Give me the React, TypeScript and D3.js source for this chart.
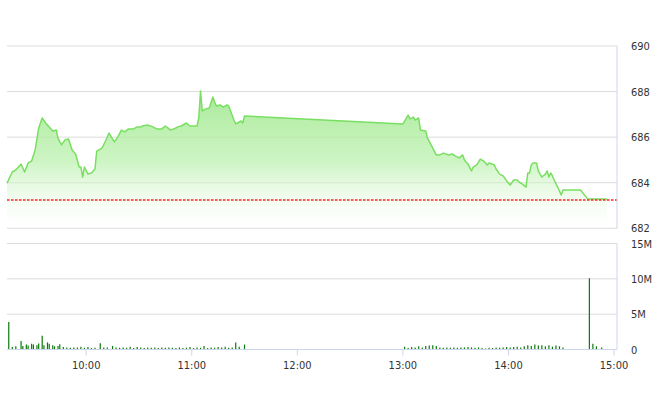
import * as d3 from 'd3'
import React, { useEffect, useRef } from 'react'

// intraday index, reference price and matched volume (millions)
const refPrice = 683.24
const priceTicks = [682, 684, 686, 688, 690]
const volTicks = [0, 5, 10, 15]
const timeTicks = ['10:00', '11:00', '12:00', '13:00', '14:00', '15:00']

const prices: [string, number][] = [
    ['9:15', 683.98], ['9:18', 684.47], ['9:20', 684.56], ['9:21', 684.65], ['9:23', 684.82],
    ['9:25', 684.47], ['9:27', 684.87], ['9:29', 684.95], ['9:31', 685.44], ['9:33', 686.40],
    ['9:35', 686.84], ['9:37', 686.62], ['9:41', 686.27], ['9:43', 686.31], ['9:44', 685.96],
    ['9:46', 685.66], ['9:48', 685.88], ['9:50', 685.92], ['9:52', 685.44], ['9:54', 685.26],
    ['9:56', 684.69], ['9:57', 684.69], ['9:58', 684.25], ['9:59', 684.69], ['10:01', 684.38],
    ['10:03', 684.43], ['10:05', 684.60], ['10:06', 685.39], ['10:09', 685.52], ['10:11', 685.83],
    ['10:13', 686.18], ['10:14', 686.05], ['10:16', 685.79], ['10:18', 686.01], ['10:20', 686.31],
    ['10:22', 686.23], ['10:24', 686.36], ['10:27', 686.36], ['10:29', 686.45], ['10:31', 686.45],
    ['10:32', 686.49], ['10:35', 686.53], ['10:38', 686.45], ['10:40', 686.36], ['10:43', 686.36],
    ['10:45', 686.49], ['10:48', 686.31], ['10:51', 686.40], ['10:52', 686.45], ['10:54', 686.49],
    ['10:57', 686.62], ['10:59', 686.49], ['11:03', 686.49], ['11:04', 686.84], ['11:05', 688.03],
    ['11:06', 687.15], ['11:08', 687.24], ['11:10', 687.28], ['11:12', 687.76], ['11:13', 687.54],
    ['11:14', 687.37], ['11:16', 687.41], ['11:18', 687.32], ['11:20', 687.41], ['11:21', 687.37],
    ['11:24', 686.75], ['11:25', 686.58], ['11:28', 686.71], ['11:29', 686.62], ['11:30', 686.93],
    ['13:00', 686.58], ['13:02', 686.84], ['13:03', 686.97], ['13:04', 686.80], ['13:06', 686.88],
    ['13:07', 686.75], ['13:09', 686.84], ['13:10', 686.31], ['13:13', 686.27], ['13:14', 685.96],
    ['13:17', 685.52], ['13:19', 685.22], ['13:21', 685.22], ['13:23', 685.30], ['13:26', 685.22],
    ['13:28', 685.26], ['13:30', 685.17], ['13:32', 685.09], ['13:34', 685.22], ['13:35', 685.00],
    ['13:37', 684.82], ['13:39', 684.52], ['13:40', 684.69], ['13:42', 684.78], ['13:44', 685.04],
    ['13:46', 684.95], ['13:48', 684.78], ['13:49', 684.87], ['13:52', 684.78], ['13:53', 684.60],
    ['13:55', 684.38], ['13:57', 684.30], ['13:59', 684.08], ['14:01', 683.90], ['14:03', 684.12],
    ['14:05', 684.12], ['14:06', 684.03], ['14:08', 683.94], ['14:10', 683.81], ['14:11', 684.43],
    ['14:12', 684.43], ['14:13', 684.78], ['14:14', 684.87], ['14:16', 684.87], ['14:17', 684.52],
    ['14:19', 684.25], ['14:21', 684.38], ['14:22', 684.52], ['14:23', 684.25], ['14:24', 684.43],
    ['14:25', 684.30], ['14:26', 684.12], ['14:28', 683.81], ['14:30', 683.46], ['14:31', 683.68],
    ['14:41', 683.68], ['14:45', 683.29], ['14:56', 683.29],
]

const volumes: [string, number][] = [
    ['9:16', 3.9], ['9:18', 0.35], ['9:20', 0.45], ['9:23', 1.2], ['9:24', 0.5], ['9:26', 0.7],
    ['9:27', 0.55], ['9:29', 0.8], ['9:30', 0.7], ['9:32', 0.6], ['9:33', 0.85], ['9:35', 1.95],
    ['9:36', 0.6], ['9:38', 1.0], ['9:39', 0.8], ['9:41', 0.6], ['9:42', 0.45], ['9:44', 0.5],
    ['9:45', 0.75], ['9:47', 0.35], ['9:49', 0.3], ['9:51', 0.25], ['9:53', 0.3], ['9:55', 0.3],
    ['9:57', 0.4], ['9:59', 0.25], ['10:01', 0.35], ['10:03', 0.2], ['10:05', 0.25], ['10:08', 0.9],
    ['10:10', 0.3], ['10:12', 0.3], ['10:15', 0.5], ['10:17', 0.3], ['10:19', 0.25], ['10:21', 0.3],
    ['10:23', 0.25], ['10:25', 0.4], ['10:27', 0.2], ['10:29', 0.35], ['10:31', 0.3], ['10:33', 0.2],
    ['10:35', 0.3], ['10:37', 0.25], ['10:39', 0.3], ['10:41', 0.2], ['10:43', 0.3], ['10:45', 0.25],
    ['10:47', 0.3], ['10:49', 0.25], ['10:51', 0.2], ['10:53', 0.3], ['10:55', 0.2], ['10:57', 0.25],
    ['10:59', 0.35], ['11:01', 0.2], ['11:03', 0.3], ['11:05', 0.25], ['11:07', 0.5], ['11:09', 0.2],
    ['11:11', 0.3], ['11:13', 0.25], ['11:15', 0.35], ['11:17', 0.3], ['11:19', 0.4], ['11:21', 0.25],
    ['11:23', 0.3], ['11:25', 1.0], ['11:27', 0.4], ['11:30', 0.7],
    ['13:01', 0.4], ['13:03', 0.2], ['13:05', 0.35], ['13:07', 0.3], ['13:09', 0.45], ['13:11', 0.3],
    ['13:13', 0.5], ['13:15', 0.55], ['13:17', 0.6], ['13:19', 0.5], ['13:21', 0.3], ['13:23', 0.25],
    ['13:25', 0.3], ['13:27', 0.25], ['13:29', 0.3], ['13:31', 0.25], ['13:33', 0.3], ['13:35', 0.3],
    ['13:37', 0.35], ['13:39', 0.3], ['13:41', 0.25], ['13:43', 0.3], ['13:45', 0.2], ['13:47', 0.15],
    ['13:49', 0.25], ['13:51', 0.2], ['13:53', 0.3], ['13:55', 0.25], ['13:57', 0.3], ['13:59', 0.35],
    ['14:01', 0.3], ['14:03', 0.35], ['14:05', 0.4], ['14:07', 0.3], ['14:09', 0.45], ['14:11', 0.6],
    ['14:13', 0.5], ['14:15', 0.7], ['14:17', 0.55], ['14:19', 0.6], ['14:21', 0.45], ['14:23', 0.6],
    ['14:25', 0.4], ['14:27', 0.55], ['14:29', 0.45], ['14:31', 0.3],
    ['14:46', 10.1], ['14:48', 0.8], ['14:50', 0.45], ['14:53', 0.3],
]

const toDate = (s: string) => {
    const [h, m] = s.split(':').map(Number)
    return new Date(2020, 0, 2, h, m)
}

const W = 660
const H = 412
const left = 7
const right = 617
const priceTop = 46
const priceBottom = 228.3
const volTop = 243.5
const volBottom = 349.5
const font = '"Liberation Sans Narrow", "DejaVu Sans Condensed", Roboto, sans-serif'
const gridColor = '#dcdcdc'
const axisColor = '#ccd6eb'
const textColor = '#333333'

export default function App() {
    const ref = useRef<SVGSVGElement>(null)

    useEffect(() => {
        const svg = d3.select(ref.current)
        svg.selectAll('*').remove()

        const x = d3.scaleTime().domain([toDate('9:15'), toDate('15:00')]).range([left, 614])
        const y = d3.scaleLinear().domain([682, 690]).range([priceBottom, priceTop])
        const yv = d3.scaleLinear().domain([0, 15]).range([volBottom, volTop])

        const defs = svg.append('defs')
        const grad = defs.append('linearGradient')
            .attr('id', 'pfill')
            .attr('gradientUnits', 'userSpaceOnUse')
            .attr('x1', 0).attr('x2', 0)
            .attr('y1', 80).attr('y2', priceBottom)
        grad.append('stop').attr('offset', 0).attr('stop-color', '#92e47f').attr('stop-opacity', 0.85)
        grad.append('stop').attr('offset', 0.55).attr('stop-color', '#b8f0aa').attr('stop-opacity', 0.7)
        grad.append('stop').attr('offset', 1).attr('stop-color', '#ffffff').attr('stop-opacity', 0.2)

        // price grid
        svg.append('g')
            .selectAll('line')
            .data(priceTicks)
            .join('line')
            .attr('x1', left).attr('x2', right)
            .attr('y1', d => y(d)).attr('y2', d => y(d))
            .attr('stroke', gridColor)

        const pts = prices.map(([t, v]) => ({ t: toDate(t), v }))
        const area = d3.area<{ t: Date, v: number }>()
            .x(d => x(d.t)).y0(priceBottom).y1(d => y(d.v))
        const line = d3.line<{ t: Date, v: number }>()
            .x(d => x(d.t)).y(d => y(d.v))

        svg.append('path').attr('d', area(pts)).attr('fill', 'url(#pfill)')
        svg.append('path').attr('d', line(pts))
            .attr('fill', 'none')
            .attr('stroke', '#79df61')
            .attr('stroke-width', 1.5)
            .attr('stroke-linejoin', 'round')

        // reference price
        svg.append('line')
            .attr('x1', left).attr('x2', right)
            .attr('y1', y(refPrice)).attr('y2', y(refPrice))
            .attr('stroke', '#ff2020')
            .attr('stroke-width', 1.5)
            .attr('stroke-dasharray', '2.5,1.5')

        svg.append('line')
            .attr('x1', right).attr('x2', right)
            .attr('y1', priceTop).attr('y2', priceBottom)
            .attr('stroke', axisColor)

        svg.append('g')
            .selectAll('text')
            .data(priceTicks)
            .join('text')
            .attr('x', 631).attr('y', d => y(d) + 4)
            .attr('font-family', font).attr('font-size', 11)
            .attr('fill', textColor)
            .text(d => d)

        // volume panel
        svg.append('g')
            .selectAll('line')
            .data(volTicks.slice(1))
            .join('line')
            .attr('x1', left).attr('x2', right)
            .attr('y1', d => yv(d)).attr('y2', d => yv(d))
            .attr('stroke', gridColor)

        svg.append('g')
            .selectAll('line')
            .data(volumes)
            .join('line')
            .attr('x1', d => x(toDate(d[0]))).attr('x2', d => x(toDate(d[0])))
            .attr('y1', volBottom).attr('y2', d => yv(d[1]))
            .attr('stroke', '#0b7a0b')
            .attr('stroke-width', 1.2)

        svg.append('line')
            .attr('x1', left).attr('x2', right)
            .attr('y1', volBottom).attr('y2', volBottom)
            .attr('stroke', axisColor)
        svg.append('line')
            .attr('x1', right).attr('x2', right)
            .attr('y1', volTop).attr('y2', volBottom)
            .attr('stroke', axisColor)

        svg.append('g')
            .selectAll('text')
            .data(volTicks)
            .join('text')
            .attr('x', 631).attr('y', d => yv(d) + 4)
            .attr('font-family', font).attr('font-size', 11)
            .attr('fill', textColor)
            .text(d => (d === 0 ? '0' : `${d}M`))

        // time axis
        const tg = svg.append('g')
            .selectAll('g')
            .data(timeTicks)
            .join('g')
            .attr('transform', d => `translate(${x(toDate(d))},0)`)
        tg.append('line')
            .attr('y1', volBottom).attr('y2', volBottom + 6)
            .attr('stroke', axisColor)
        tg.append('text')
            .attr('y', 369)
            .attr('text-anchor', 'middle')
            .attr('font-family', font).attr('font-size', 11)
            .attr('fill', textColor)
            .text(d => d)
    }, [])

    return (
        <svg ref={ref} width={W} height={H} viewBox={`0 0 ${W} ${H}`}
            style={{ position: 'absolute', left: 0, top: 0, background: '#fff' }} />
    )
}
